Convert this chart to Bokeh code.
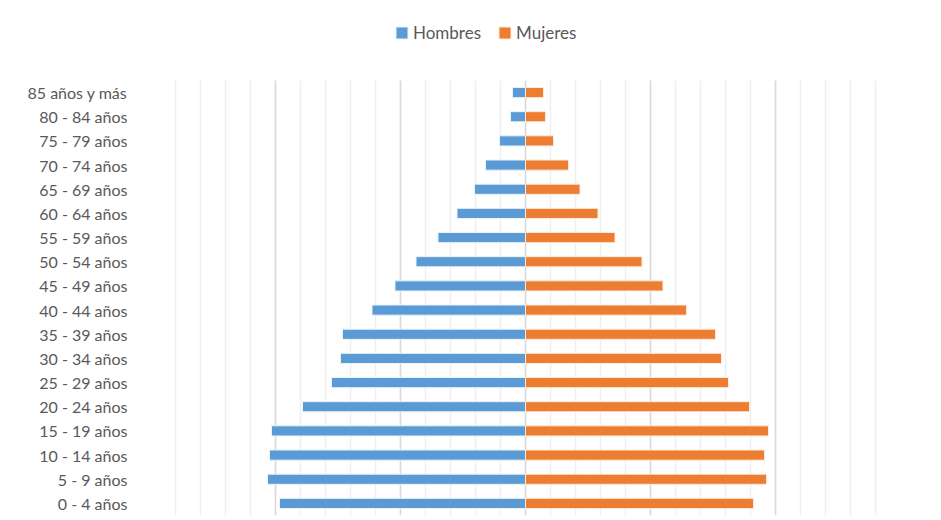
from bokeh.plotting import figure
from bokeh.models import Range1d, FixedTicker, Legend, LegendItem, ColumnDataSource, BoxAnnotation
from bokeh.embed import file_html
from bokeh.resources import INLINE

edades = ["0 - 4 años", "5 - 9 años", "10 - 14 años", "15 - 19 años", "20 - 24 años",
          "25 - 29 años", "30 - 34 años", "35 - 39 años", "40 - 44 años", "45 - 49 años",
          "50 - 54 años", "55 - 59 años", "60 - 64 años", "65 - 69 años", "70 - 74 años",
          "75 - 79 años", "80 - 84 años", "85 años y más"]
hombres = [4.92, 5.16, 5.12, 5.08, 4.46, 3.88, 3.70, 3.66, 3.07, 2.61,
           2.19, 1.75, 1.37, 1.02, 0.80, 0.52, 0.30, 0.26]
mujeres = [4.56, 4.82, 4.78, 4.86, 4.48, 4.06, 3.92, 3.80, 3.22, 2.75,
           2.33, 1.79, 1.45, 1.09, 0.86, 0.56, 0.40, 0.36]

pos = list(range(len(edades)))
src = ColumnDataSource(dict(y=pos, h=[-v for v in hombres], m=mujeres,
                            zero=[0] * len(edades)))

p = figure(width=941, height=520, y_range=Range1d(-0.5, 20.81),
           x_range=Range1d(-7.5, 7.5), output_backend="svg", toolbar_location=None,
           min_border_left=150, min_border_right=41, min_border_top=0, min_border_bottom=5)
p.outline_line_color = None
p.background_fill_color = "white"

rh = p.hbar(y="y", left="h", right="zero", height=0.42, source=src,
            fill_color="#5B9BD5", line_color="#EAF2FA", line_width=1)
rm = p.hbar(y="y", left="zero", right="m", height=0.42, source=src,
            fill_color="#ED7D31", line_color="#FCEBDD", line_width=1)

# hide gridlines above the plot area (legend zone)
p.add_layout(BoxAnnotation(bottom=len(edades) - 0.5, fill_color="white", fill_alpha=1,
                           line_color=None, level="underlay"))

p.xaxis.visible = False
p.xgrid.ticker = FixedTicker(ticks=[-7.5, -5, -2.5, 0, 2.5, 5, 7.5],
                             minor_ticks=[x / 2 for x in range(-15, 16)])
p.xgrid.grid_line_color = "#D9D9D9"
p.xgrid.grid_line_width = 1.5
p.xgrid.minor_grid_line_color = "#EFEFEF"
p.xgrid.minor_grid_line_width = 1.5
p.xgrid.level = "underlay"
p.ygrid.grid_line_color = None

ya = p.yaxis[0]
ya.ticker = FixedTicker(ticks=pos, minor_ticks=[])
ya.major_label_overrides = {i: e for i, e in zip(pos, edades)}
ya.axis_line_color = None
ya.major_tick_line_color = None
ya.minor_tick_line_color = None
ya.major_label_text_font = "Lato"
ya.major_label_text_font_size = "16px"
ya.major_label_text_color = "#595959"
ya.major_label_standoff = 17

legend = Legend(items=[LegendItem(label="Hombres", renderers=[rh]),
                       LegendItem(label="Mujeres", renderers=[rm])],
                orientation="horizontal", location=(244, 472))
legend.label_text_font = "Lato"
legend.label_text_font_size = "17px"
legend.label_text_color = "#595959"
legend.glyph_width = 15
legend.glyph_height = 15
legend.label_standoff = 4
legend.spacing = 16
legend.padding = 0
legend.margin = 0
legend.border_line_color = None
legend.background_fill_alpha = 0
p.add_layout(legend)

open("out.html", "w").write(file_html(p, INLINE))
